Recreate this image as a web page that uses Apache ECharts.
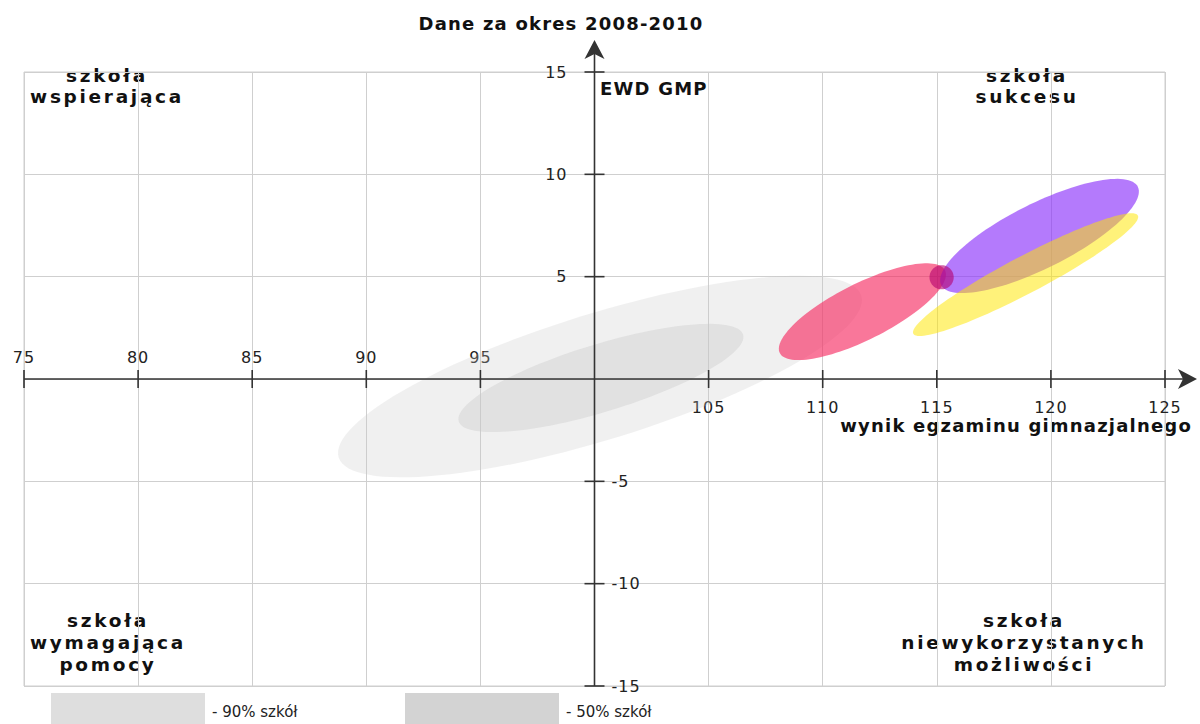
<!DOCTYPE html>
<html><head><meta charset="utf-8">
<script src="https://cdn.jsdelivr.net/npm/echarts@6/dist/echarts.min.js"></script>
<style>
html,body{margin:0;padding:0;background:#fff}
#c{width:1200px;height:724px}
#c text[style*="16px"]{letter-spacing:1px}
#c text[style*="18px"]{letter-spacing:1.2px}
#c text[style*="18.5px"]{letter-spacing:2.7px}
</style>
</head><body><div id="c"></div>
<script>
// ---- data ----
const xTicks = [75, 80, 85, 90, 95, 100, 105, 110, 115, 120, 125];
const xTickLabels = ['75', '80', '85', '90', '95', '', '105', '110', '115', '120', '125'];
const yTicks = [-15, -10, -5, 0, 5, 10, 15];
const yTickLabels = ['-15', '-10', '-5', '', '5', '10', '15'];
const axisCross = [100, 0];

const ellipseNames = ['90% szkół', '50% szkół', 'szkoła – wynik 1', 'szkoła – wynik 2', 'szkoła – wynik 3', 'szkoła – punkt'];
const ellipseCenterX = [100.24, 100.28, 111.74, 119.50, 118.89, 115.21];
const ellipseCenterY = [0.12, 0.05, 3.29, 6.99, 5.10, 4.97];
const ellipseMajorDX = [11.45, 6.23, 3.62, 4.31, 4.92, 0.53];
const ellipseMajorDY = [3.95, 2.12, 2.02, 2.40, 2.89, 0];
const ellipseMinorDX = [0.82, 0.43, 0.55, 0.63, 0.38, 0];
const ellipseMinorDY = [-2.94, -1.58, -1.23, -1.42, -0.80, -0.59];
const ellipseColors = ['rgba(200,200,200,0.27)', 'rgba(200,200,200,0.38)', 'rgba(245,40,95,0.63)',
  'rgba(140,50,250,0.65)', 'rgba(255,230,0,0.52)', 'rgba(180,0,110,0.6)'];

const legendLabels = ['- 90% szkół', '- 50% szkół'];
const legendColors = ['#dedede', '#d3d3d3'];
const quadrantLabels = ['szkoła\nwspierająca', 'szkoła\nsukcesu', 'szkoła\nwymagająca\npomocy', 'szkoła\nniewykorzystanych\nmożliwości'];
const subtitle = 'Dane za okres 2008-2010';
const xAxisName = 'wynik egzaminu gimnazjalnego';
const yAxisName = 'EWD GMP';

// ---- layout ----
const FONT = '"DejaVu Sans", sans-serif';
const W = 1200, H = 724;
const G = { left: 24, right: 35, top: 72, bottom: 38 };
const xMin = xTicks[0], xMax = xTicks[xTicks.length - 1];
const yMin = yTicks[0], yMax = yTicks[yTicks.length - 1];
const yAxisOffset = -((W - G.left - G.right) * (axisCross[0] - xMin) / (xMax - xMin));
const xAxisOffset = -((H - G.top - G.bottom) * (axisCross[1] - yMin) / (yMax - yMin));

const xLab = v => { const i = xTicks.indexOf(v); return i < 0 ? '' : xTickLabels[i]; };
const yLab = v => { const i = yTicks.indexOf(v); return i < 0 ? '' : yTickLabels[i]; };

const chart = echarts.init(document.getElementById('c'), null, { renderer: 'svg' });

function renderEllipse(params, api) {
  const cx = api.value(0), cy = api.value(1), ux = api.value(2), uy = api.value(3), wx = api.value(4), wy = api.value(5);
  const pts = [];
  const N = 120;
  for (let k = 0; k < N; k++) {
    const t = 2 * Math.PI * k / N;
    pts.push(api.coord([cx + ux * Math.cos(t) + wx * Math.sin(t), cy + uy * Math.cos(t) + wy * Math.sin(t)]));
  }
  return { type: 'polygon', shape: { points: pts }, style: { fill: ellipseColors[params.dataIndex] } };
}

function renderAxes(params, api) {
  const st = { stroke: '#333', lineWidth: 1.6 };
  const o = api.coord(axisCross);
  const xl = api.coord([xMin, axisCross[1]]), xr = api.coord([xMax, axisCross[1]]);
  const yb = api.coord([axisCross[0], yMin]), yt = api.coord([axisCross[0], yMax]);
  const children = [];
  const xTip = [xr[0] + 32, o[1]];
  const yTip = [o[0], yt[1] - 32];
  children.push({ type: 'line', shape: { x1: xl[0], y1: o[1], x2: xTip[0] - 12, y2: o[1] }, style: st });
  children.push({ type: 'line', shape: { x1: o[0], y1: yb[1], x2: o[0], y2: yTip[1] + 12 }, style: st });
  children.push({ type: 'polygon', shape: { points: [xTip, [xTip[0] - 19, xTip[1] - 10], [xTip[0] - 14, xTip[1]], [xTip[0] - 19, xTip[1] + 10]] }, style: { fill: '#333' } });
  children.push({ type: 'polygon', shape: { points: [yTip, [yTip[0] - 10, yTip[1] + 19], [yTip[0], yTip[1] + 14], [yTip[0] + 10, yTip[1] + 19]] }, style: { fill: '#333' } });
  xTicks.forEach(v => {
    if (v === axisCross[0]) return;
    const p = api.coord([v, axisCross[1]]);
    children.push({ type: 'line', shape: { x1: p[0], y1: p[1] - 9, x2: p[0], y2: p[1] + 9 }, style: st });
  });
  yTicks.forEach(v => {
    if (v === axisCross[1]) return;
    const p = api.coord([axisCross[0], v]);
    children.push({ type: 'line', shape: { x1: p[0] - 10, y1: p[1], x2: p[0] + 10, y2: p[1] }, style: st });
  });
  return { type: 'group', children };
}

const gridLine = { show: true, lineStyle: { color: '#cfcfcf', width: 1 } };
const hiddenLine = { show: true, onZero: false, lineStyle: { opacity: 0 } };
const lab = { color: '#222', fontFamily: FONT, fontSize: 16, showMinLabel: true, showMaxLabel: true };
const boldText = (text, x, y, align, size, lh) => ({ type: 'text', x, y, silent: true,
  style: { text, fontFamily: FONT, fontWeight: 'bold', fontSize: size, lineHeight: lh, fill: '#111', textAlign: align, textVerticalAlign: lh ? 'top' : 'middle' } });

const option = {
  animation: false,
  backgroundColor: '#fff',
  grid: { left: G.left, right: G.right, top: G.top, bottom: G.bottom, show: true, borderColor: '#cfcfcf', borderWidth: 1 },
  xAxis: [
    { type: 'value', min: xMin, max: xMax, interval: 5, position: 'bottom', offset: xAxisOffset,
      axisLine: hiddenLine, axisTick: { show: false }, splitLine: gridLine,
      axisLabel: Object.assign({}, lab, { inside: true, margin: 14, formatter: v => v < axisCross[0] ? xLab(v) : '' }) },
    { type: 'value', min: xMin, max: xMax, interval: 5, position: 'bottom', offset: xAxisOffset,
      axisLine: hiddenLine, axisTick: { show: false }, splitLine: { show: false },
      axisLabel: Object.assign({}, lab, { margin: 20, formatter: v => v > axisCross[0] ? xLab(v) : '' }) }
  ],
  yAxis: [
    { type: 'value', min: yMin, max: yMax, interval: 5, position: 'left', offset: yAxisOffset,
      axisLine: hiddenLine, axisTick: { show: false }, splitLine: gridLine,
      axisLabel: Object.assign({}, lab, { margin: 27, formatter: v => v > axisCross[1] ? yLab(v) : '' }) },
    { type: 'value', min: yMin, max: yMax, interval: 5, position: 'left', offset: yAxisOffset,
      axisLine: hiddenLine, axisTick: { show: false }, splitLine: { show: false },
      axisLabel: Object.assign({}, lab, { inside: true, margin: 17, formatter: v => v < axisCross[1] ? yLab(v) : '' }) }
  ],
  series: [
    { type: 'custom', name: 'elipsy', xAxisIndex: 0, yAxisIndex: 0, clip: false, silent: true, z: 2,
      dimensions: ['x', 'y', 'ux', 'uy', 'wx', 'wy'], encode: { x: 0, y: 1 },
      data: ellipseCenterX.map((x, i) => ({ name: ellipseNames[i], value: [x, ellipseCenterY[i], ellipseMajorDX[i], ellipseMajorDY[i], ellipseMinorDX[i], ellipseMinorDY[i]] })),
      renderItem: renderEllipse },
    { type: 'custom', name: 'osie', xAxisIndex: 0, yAxisIndex: 0, clip: false, silent: true, z: 5,
      encode: { x: 0, y: 1 }, data: [axisCross], renderItem: renderAxes }
  ],
  graphic: [
    boldText(subtitle, 561, 23, 'center', 18),
    boldText(yAxisName, 600, 88, 'left', 18),
    boldText(xAxisName, 1192, 425, 'right', 18),
    boldText(quadrantLabels[0], 107, 64.5, 'center', 18.5, 21),
    boldText(quadrantLabels[1], 1027, 64.5, 'center', 18.5, 21),
    boldText(quadrantLabels[2], 108, 609, 'center', 18.5, 22),
    boldText(quadrantLabels[3], 1024, 609, 'center', 18.5, 22),
    { type: 'rect', shape: { x: 51, y: 693, width: 154, height: 40 }, style: { fill: legendColors[0] } },
    { type: 'text', x: 212, y: 712, style: { text: legendLabels[0], fontFamily: FONT, fontSize: 15, fill: '#222', textAlign: 'left', textVerticalAlign: 'middle' } },
    { type: 'rect', shape: { x: 405, y: 693, width: 154, height: 40 }, style: { fill: legendColors[1] } },
    { type: 'text', x: 566, y: 712, style: { text: legendLabels[1], fontFamily: FONT, fontSize: 15, fill: '#222', textAlign: 'left', textVerticalAlign: 'middle' } }
  ]
};
chart.setOption(option);
</script></body></html>
